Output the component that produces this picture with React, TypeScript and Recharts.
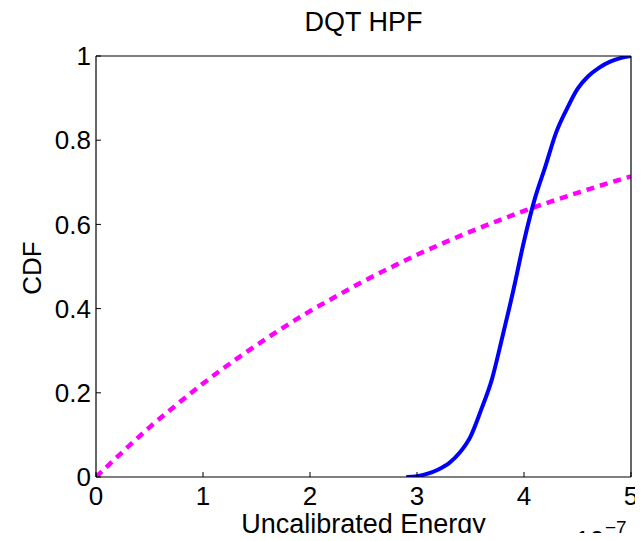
import { LineChart, Line, XAxis, YAxis, Label } from 'recharts'

const energyTicks = [0, 1, 2, 3, 4, 5]
const cdfTicks = [0, 0.2, 0.4, 0.6, 0.8, 1]

// measured CDF (blue, solid)
const hpfEnergy = [2.9, 3.0, 3.1, 3.2, 3.3, 3.4, 3.5, 3.6, 3.7, 3.8, 3.9, 4.0, 4.1, 4.2, 4.3, 4.4, 4.5, 4.6, 4.7, 4.8, 4.9, 5.0]
const hpfCdf = [0, 0.002, 0.008, 0.018, 0.033, 0.058, 0.096, 0.16, 0.232, 0.335, 0.443, 0.56, 0.66, 0.738, 0.818, 0.874, 0.922, 0.952, 0.972, 0.986, 0.995, 1.0]

// reference CDF (magenta, dotted)
const fitEnergy = [0, 0.25, 0.5, 0.75, 1, 1.25, 1.5, 1.75, 2, 2.25, 2.5, 2.75, 3, 3.25, 3.5, 3.75, 4, 4.25, 4.5, 4.75, 5]
const fitCdf = [0, 0.06, 0.118, 0.171, 0.222, 0.269, 0.313, 0.355, 0.394, 0.43, 0.465, 0.497, 0.528, 0.556, 0.583, 0.608, 0.632, 0.654, 0.675, 0.695, 0.714]

const hpfData = hpfEnergy.map((x, i) => ({ x, y: hpfCdf[i] }))
const fitData = fitEnergy.map((x, i) => ({ x, y: fitCdf[i] }))

const FONT = '"Liberation Sans", Arial, Helvetica, sans-serif'
const tickStyle = { fill: '#000', fontSize: 26, fontFamily: FONT }

export default function App() {
  return (
    <div style={{ margin: -8, width: 643, height: 541, background: '#fff', overflow: 'hidden' }}>
      <LineChart
        width={643}
        height={541}
        margin={{ top: 55, right: 11, bottom: 24, left: 36 }}
        style={{ fontFamily: FONT }}
      >
        <XAxis
          dataKey="x"
          type="number"
          domain={[0, 5]}
          ticks={energyTicks}
          height={40}
          tickSize={-5}
          tickMargin={15}
          tick={tickStyle}
          axisLine={{ stroke: '#000', strokeWidth: 1.2 }}
          tickLine={{ stroke: '#000' }}
          allowDataOverflow
        >
          <Label value="Uncalibrated Energy" position="bottom" offset={-3} fontSize={27} fill="#000" fontFamily={FONT} />
        </XAxis>
        <XAxis
          xAxisId="top"
          orientation="top"
          type="number"
          domain={[0, 5]}
          ticks={energyTicks}
          height={1}
          tickSize={-5}
          tick={false}
          axisLine={{ stroke: '#000', strokeWidth: 1.2 }}
          tickLine={{ stroke: '#000' }}
        />
        <YAxis
          type="number"
          domain={[0, 1]}
          ticks={cdfTicks}
          width={60}
          tickSize={-5}
          tickMargin={10}
          tick={tickStyle}
          axisLine={{ stroke: '#000', strokeWidth: 1.2 }}
          tickLine={{ stroke: '#000' }}
          allowDataOverflow
        />
        <YAxis
          yAxisId="right"
          orientation="right"
          type="number"
          domain={[0, 1]}
          ticks={cdfTicks}
          width={1}
          tickSize={-5}
          tick={false}
          axisLine={{ stroke: '#000', strokeWidth: 1.2 }}
          tickLine={{ stroke: '#000' }}
        />
        <Line
          data={fitData}
          dataKey="y"
          type="monotone"
          stroke="#ff00ff"
          strokeWidth={4.5}
          strokeDasharray="8 6"
          dot={false}
          isAnimationActive={false}
        />
        <Line
          data={hpfData}
          dataKey="y"
          type="monotone"
          stroke="#0000ff"
          strokeWidth={4}
          dot={false}
          isAnimationActive={false}
        />
        <text x={363.5} y={31} textAnchor="middle" fontSize={27} fill="#000" fontFamily={FONT}>
          DQT HPF
        </text>
        <text transform="translate(41,268) rotate(-90)" textAnchor="middle" fontSize={26} fill="#000" fontFamily={FONT}>
          CDF
        </text>
        <text x={555} y={549} fontSize={26} fill="#000" fontFamily={FONT}>
          x 10
        </text>
        <text x={605} y={534} fontSize={19} fill="#000" fontFamily={FONT}>
          −7
        </text>
      </LineChart>
    </div>
  )
}
